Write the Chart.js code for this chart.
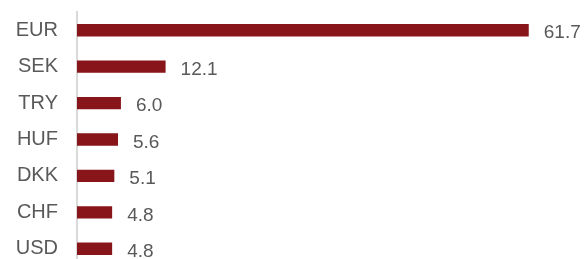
<!DOCTYPE html>
<html lang="en">
<head>
    <meta charset="UTF-8">
    <title>Currencies</title>
    <style>
        html, body { margin: 0; padding: 0; background: #fff; overflow: hidden; }
        #wrap { position: relative; width: 584px; height: 279px; }
    </style>
</head>
<body>
    <div id="wrap">
        <canvas id="myChart"></canvas>
    </div>

    <script src="https://cdn.jsdelivr.net/npm/chart.js"></script>

    <script>
        const currencies = ['EUR', 'SEK', 'TRY', 'HUF', 'DKK', 'CHF', 'USD'];
        const shares = [61.7, 12.1, 6.0, 5.6, 5.1, 4.8, 4.8];

        // value labels next to each bar
        const valueLabels = {
            id: 'valueLabels',
            afterDatasetsDraw(chart) {
                const c = chart.ctx;
                const meta = chart.getDatasetMeta(0);
                c.save();
                c.font = '19px "Liberation Sans", Arial, sans-serif';
                c.fillStyle = '#595959';
                c.textAlign = 'left';
                c.textBaseline = 'middle';
                meta.data.forEach((bar, i) => {
                    c.fillText(shares[i].toFixed(1), bar.x + 15, bar.y + 3);
                });
                c.restore();
            }
        };

        const ctx = document.getElementById('myChart');

        new Chart(ctx, {
            type: 'bar',
            data: {
                labels: currencies,
                datasets: [{
                    data: shares,
                    backgroundColor: '#87151a',
                    borderWidth: 0,
                    barPercentage: 0.34,
                    categoryPercentage: 1.0
                }]
            },
            options: {
                indexAxis: 'y',
                responsive: true,
                maintainAspectRatio: false,
                animation: false,
                layout: { padding: { left: 0, right: 4, top: 11, bottom: 0 } },
                plugins: {
                    legend: { display: false },
                    tooltip: { enabled: false }
                },
                scales: {
                    x: {
                        display: false,
                        min: 0,
                        max: 68.7
                    },
                    y: {
                        afterFit(scale) { scale.width = 77; },
                        // invisible tick marks just push the labels away from the axis line
                        grid: { display: true, drawOnChartArea: false, drawTicks: true, tickLength: 19, color: 'rgba(0,0,0,0)' },
                        border: { display: true, color: '#d9d9d9', width: 2 },
                        ticks: {
                            padding: 0,
                            color: '#595959',
                            font: { family: '"Liberation Sans", Arial, sans-serif', size: 20 }
                        }
                    }
                }
            },
            plugins: [valueLabels]
        });
    </script>
</body>
</html>
